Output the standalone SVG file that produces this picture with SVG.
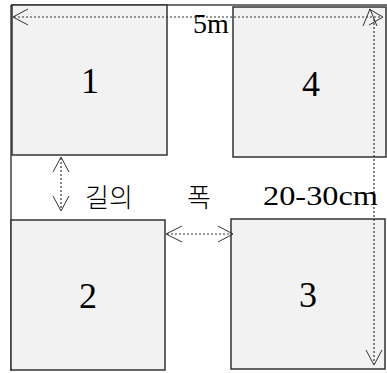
<svg xmlns="http://www.w3.org/2000/svg" width="387" height="373" viewBox="0 0 387 373">
<style>
.box{fill:#f2f2f2;stroke:#333;stroke-width:1.5}
.num{font-family:"Liberation Serif",serif;font-size:36px;fill:#000;text-anchor:middle}
.lbl{font-family:"Liberation Serif",serif;font-size:28px;fill:#000}
.kr{font-family:"Noto Sans CJK KR",sans-serif;font-size:26px;font-weight:300;fill:#000}
.dot{stroke:#333;stroke-width:1.2;stroke-dasharray:2 2;fill:none}
.head{stroke:#333;stroke-width:1;fill:none}
.frame{stroke:#444;stroke-width:1.5;fill:none}
</style>
<rect width="387" height="373" fill="#fff"/>
<g id="frame">
<path class="frame" d="M11,5 H387 M11,5 V371"/>
</g>
<g id="node1"><rect class="box" x="12" y="5" width="155" height="150"/><text class="num" x="90" y="93">1</text></g>
<g id="node4"><rect class="box" x="233" y="7" width="153" height="150"/><text class="num" x="311" y="96">4</text></g>
<g id="node2"><rect class="box" x="11" y="220" width="154" height="150"/><text class="num" x="88" y="308">2</text></g>
<g id="node3"><rect class="box" x="231" y="219" width="154" height="150"/><text class="num" x="308" y="307">3</text></g>
<g id="connectors">
<path class="dot" d="M14,17 H382"/>
<path class="head" d="M28,9 L13,17 L28,25"/>
<path class="head" d="M369,9 L383,17 L369,25"/>
<path class="head" d="M363,26 L370,9 L377,26"/>
<path class="dot" d="M374,19 V364"/>
<path class="head" d="M366,350 L374,365 L382,350"/>
<path class="dot" d="M61,158 V210"/>
<path class="head" d="M53,172 L61,157 L69,172"/>
<path class="head" d="M53,196 L61,211 L69,196"/>
<path class="dot" d="M167,234 H232"/>
<path class="head" d="M182,226 L166,234 L182,242"/>
<path class="head" d="M218,226 L233,234 L218,242"/>
</g>
<g id="labels">
<text class="lbl" x="193" y="33">5m</text>
<text class="kr" x="85" y="207">길의</text>
<text class="kr" x="187" y="207">폭</text>
<text class="lbl" x="263" y="205" textLength="115" lengthAdjust="spacingAndGlyphs">20-30cm</text>
</g>
</svg>
